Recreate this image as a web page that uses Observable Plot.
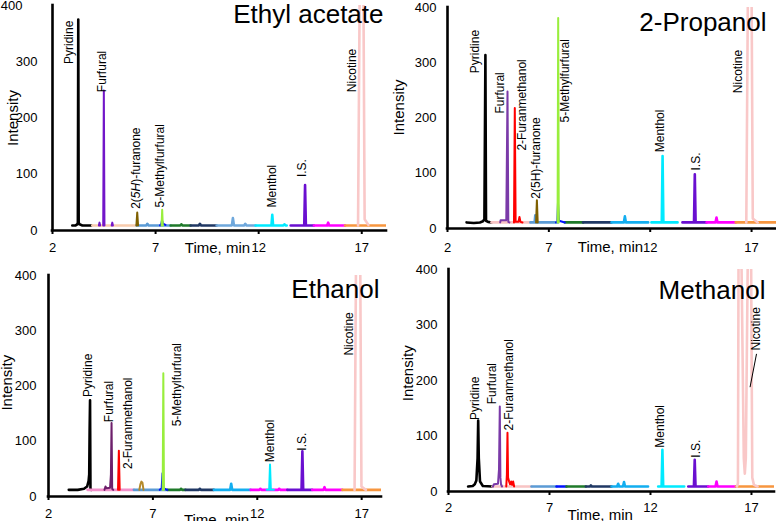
<!DOCTYPE html>
<html><head><meta charset="utf-8">
<script src="https://cdn.jsdelivr.net/npm/d3@7"></script>
<script src="https://cdn.jsdelivr.net/npm/@observablehq/plot@0.6"></script>
<style>
html,body{margin:0;padding:0;background:#fff;}
#wrap{position:relative;width:776px;height:521px;overflow:hidden;background:#fff;}
#wrap svg{position:absolute;}
</style></head><body><div id="wrap"></div>
<script>
// ---------- tick labels ----------
const ticksX = [2, 7, 12, 17];
const ticksY = [0, 100, 200, 300, 400];
const panelTitles = ["Ethyl acetate", "2-Propanol", "Ethanol", "Methanol"];
const xTitle = "Time, min";
const yTitle = "Intensity";

// ---------- colours of the detection windows / ion traces ----------
const palette = {
  black: "#000000", peach: "#f8cbad", blush: "#f8c4c4", rose: "#f290ca",
  violet: "#7216c9", purple: "#7a3aa8", plum: "#6d1f6b", red: "#ff0000",
  brown: "#7f6000", gold: "#b48a2c", steel: "#5b9bd5", lime: "#99ee3d",
  blue: "#0010ff", green: "#1f7a2a", navy: "#203864", azure: "#6fa8dc",
  sky: "#13aef0", cyan: "#00eaff", indigo: "#6a0fd0", magenta: "#ff00ff",
  orange: "#f7963f", nicotine: "#f9c8c8"
};

// ---------- Ethyl acetate ----------
const ethylAcetateBase = [
  ["black", [[2.96,9],[3.12,9],[3.2,11],[3.23,14],[3.25,375],[3.27,14],[3.31,11],[3.45,9],[3.88,9]]],
  ["peach", [[3.93,9],[6.08,9]]],
  ["steel", [[6.08,9],[6.55,9],[6.6,12],[6.65,9],[7.73,9]]],
  ["green", [[7.73,9],[8.2,9],[8.25,11],[8.3,9],[8.70,9]]],
  ["navy", [[8.70,9],[9.1,9],[9.15,12],[9.2,9],[9.96,9]]],
  ["azure", [[9.96,9],[10.7,9],[10.75,22],[10.8,9],[11.3,9],[11.35,12],[11.4,9],[11.85,9]]],
  ["cyan", [[11.85,9],[12.62,9],[12.66,28],[12.70,9],[13.2,9],[13.25,11],[13.3,9],[13.36,9]]],
  ["indigo", [[13.55,9],[14.21,9],[14.25,81],[14.29,9],[14.68,9]]],
  ["magenta", [[14.68,9],[15.32,9],[15.37,14],[15.42,9],[16.19,9]]],
  ["orange", [[16.19,9],[18.2,9]]],
  ["nicotine", [[16.82,9],[16.9,430],[17.08,430],[17.14,20],[17.32,10]]]
];
const ethylAcetatePeaks = [
  ["violet", [[4.25,9],[4.28,14],[4.31,9]]],
  ["violet", [[4.46,9],[4.49,249],[4.52,9]]],
  ["violet", [[4.87,9],[4.9,14],[4.93,9]]],
  ["brown", [[6.07,9],[6.11,32],[6.15,9]]],
  ["blue", [[7.22,9],[7.28,12],[7.31,18],[7.36,12],[7.48,10]]],
  ["lime", [[7.29,9],[7.32,37],[7.35,9]]]
];
const ethylAcetateLabels = [
  ["Pyridine", 2.79, 296], ["Furfural", 4.41, 246], ["2(5H)-furanone", 6.08, 38.5],
  ["5-Methylfurfural", 7.24, 41], ["Menthol", 12.66, 41], ["I.S.", 14.09, 95], ["Nicotine", 16.55, 246]
];

// ---------- 2-Propanol ----------
const propanolBase = [
  ["black", [[2.94,11],[3.3,10],[3.6,11],[3.75,13],[3.82,17],[3.87,314],[3.9,14],[4.0,12],[4.17,11]]],
  ["blush", [[4.17,11],[6.09,11]]],
  ["steel", [[6.09,11],[6.3,11],[6.33,24],[6.36,11],[7.45,11]]],
  ["green", [[7.79,11],[8.69,11]]],
  ["navy", [[8.69,11],[10.09,11]]],
  ["sky", [[10.09,11],[10.7,11],[10.75,22],[10.8,11],[11.9,11]]],
  ["cyan", [[12.06,11],[12.57,11],[12.61,131],[12.65,11],[13.35,11]]],
  ["indigo", [[13.59,11],[14.16,11],[14.2,98],[14.24,11],[14.78,11]]],
  ["magenta", [[14.78,11],[15.22,11],[15.27,20],[15.32,11],[16.22,11]]],
  ["orange", [[16.22,11],[18.23,11]]],
  ["nicotine", [[16.74,11],[16.82,430],[17.0,430],[17.06,18],[17.3,11]]]
];
const propanolPeaks = [
  ["purple", [[4.6,11],[4.62,15],[4.9,15],[4.96,248],[5.0,12],[5.05,11]]],
  ["red", [[5.28,11],[5.32,218],[5.36,12],[5.5,12],[5.55,21],[5.6,12],[5.7,11]]],
  ["brown", [[6.37,11],[6.41,51],[6.45,11]]],
  ["blue", [[7.35,11],[7.42,12],[7.45,46],[7.5,14],[7.79,11]]],
  ["lime", [[7.43,11],[7.46,381],[7.49,11]]]
];
const propanolLabels = [
  ["Pyridine", 3.35, 281], ["Furfural", 4.58, 208], ["2-Furanmethanol", 5.70, 141],
  ["2(5H)-furanone", 6.39, 54], ["5-Methylfurfural", 7.82, 192], ["Menthol", 12.51, 138],
  ["I.S.", 14.25, 105], ["Nicotine", 16.34, 245]
];

// ---------- Ethanol ----------
const ethanolBase = [
  ["black", [[2.97,12],[3.4,12],[3.7,14],[3.85,18],[3.92,28],[3.95,40],[3.97,120],[3.99,174],[4.01,14],[4.05,12]]],
  ["rose", [[3.87,12],[6.09,12]]],
  ["steel", [[6.09,12],[7.69,12]]],
  ["green", [[7.69,12],[8.3,12],[8.35,14],[8.4,12],[8.56,12]]],
  ["navy", [[8.56,12],[9.2,12],[9.25,14],[9.3,12],[9.92,12]]],
  ["sky", [[9.92,12],[10.7,12],[10.75,23],[10.8,12],[11.68,12]]],
  ["magenta", [[11.68,12],[12.1,12],[12.15,14],[12.2,12],[13.0,12],[13.05,14],[13.1,12],[13.44,12]]],
  ["indigo", [[13.44,12],[14.12,12],[14.16,82],[14.2,12],[14.63,12]]],
  ["magenta", [[14.63,12],[15.17,12],[15.22,17],[15.27,12],[16.07,12]]],
  ["orange", [[16.07,12],[17.95,12]]],
  ["nicotine", [[16.66,12],[16.73,430],[16.93,430],[16.99,18],[17.2,12]]]
];
const ethanolPeaks = [
  ["plum", [[4.68,12],[4.73,18],[4.78,15],[4.95,16],[4.99,40],[5.02,133],[5.05,14],[5.1,12]]],
  ["red", [[5.33,12],[5.37,83],[5.41,12]]],
  ["gold", [[6.35,12],[6.4,22],[6.45,27],[6.5,25],[6.55,12]]],
  ["blue", [[7.33,12],[7.42,15],[7.46,42],[7.5,16],[7.6,13],[7.69,12]]],
  ["lime", [[7.47,12],[7.50,223],[7.53,12]]],
  ["cyan", [[12.45,12],[12.57,12],[12.61,58],[12.65,12],[12.8,12]]]
];
const ethanolLabels = [
  ["Pyridine", 3.9, 180], ["Furfural", 4.92, 134.5], ["2-Furanmethanol", 5.82, 50],
  ["5-Methylfurfural", 8.17, 127], ["Menthol", 12.61, 62], ["I.S.", 14.16, 83], ["Nicotine", 16.39, 255]
];

// ---------- Methanol ----------
const methanolBase = [
  ["black", [[2.97,9],[3.2,10],[3.3,13],[3.38,20],[3.44,60],[3.47,128],[3.5,60],[3.56,18],[3.7,10],[4.18,9]]],
  ["blush", [[4.18,9],[6.11,9]]],
  ["steel", [[6.11,9],[7.35,9]]],
  ["blue", [[7.35,9],[7.84,9]]],
  ["green", [[7.84,9],[8.80,9]]],
  ["navy", [[8.80,9],[9.0,9],[9.05,11],[9.1,9],[10.07,9]]],
  ["sky", [[10.07,9],[10.35,9],[10.4,14],[10.45,9],[10.64,9],[10.69,17],[10.74,9],[11.88,9]]],
  ["cyan", [[12.38,9],[12.55,9],[12.59,75],[12.63,9],[13.67,9]]],
  ["indigo", [[13.87,9],[14.15,9],[14.19,57],[14.23,9],[14.86,9]]],
  ["magenta", [[14.86,9],[15.22,9],[15.27,18],[15.32,9],[16.23,9]]],
  ["orange", [[16.23,9],[18.14,9]]],
  ["nicotine", [[16.28,9],[16.33,15],[16.36,430],[16.5,430],[16.62,60],[16.67,32],[16.72,60],[16.82,430],[16.98,430],[17.04,25],[17.12,12],[17.3,9]]]
];
const methanolPeaks = [
  ["purple", [[4.2,9],[4.25,13],[4.45,14],[4.5,40],[4.54,153],[4.57,25],[4.6,13],[4.65,9]]],
  ["red", [[4.86,9],[4.89,30],[4.92,106],[4.95,25],[5.0,18],[5.05,13],[5.1,18],[5.15,12],[5.2,18],[5.25,9]]]
];
const methanolLabels = [
  ["Pyridine", 3.30, 129], ["Furfural", 4.18, 157], ["2-Furanmethanol", 5.0, 110],
  ["Menthol", 12.5, 79], ["I.S.", 14.24, 61], ["Nicotine", 17.25, 254]
];
const methanolLeader = [[17.25, 248, 16.93, 188]];

// ---------- layout (pixels) ----------
const layouts = [
  {left:0, top:0, width:388, height:260, mL:52, mR:2, mT:5, mB:30, xMax:18.2, xPad:8, yPad:15, yPadTop:30,
   xTitleT:10.0, xTitleDy:18, yTitleV:200, yTitleDx:-39, titleDx:-3, titleDy:8.7},
  {left:386, top:0, width:390, height:260, mL:61, mR:0, mT:7, mB:32, xMax:18.23, xPad:10, yPad:11, yPadTop:11,
   xTitleT:10.04, xTitleDy:19, yTitleV:219, yTitleDx:-48, titleDx:-10, titleDy:15.4},
  {left:0, top:260, width:386, height:261, mL:48, mR:5, mT:15, mB:25, xMax:17.95, xPad:8, yPad:12, yPadTop:12,
   xTitleT:10.05, xTitleDy:24, yTitleV:206, yTitleDx:-41, titleDx:-2, titleDy:14.6},
  {left:386, top:260, width:390, height:261, mL:62, mR:2, mT:9, mB:30, xMax:18.14, xPad:7, yPad:11, yPadTop:11,
   xTitleT:9.51, xTitleDy:24, yTitleV:213, yTitleDx:-40, titleDx:-9, titleDy:21.3}
];

const panelData = [
  [ethylAcetateBase, ethylAcetatePeaks, ethylAcetateLabels, []],
  [propanolBase, propanolPeaks, propanolLabels, []],
  [ethanolBase, ethanolPeaks, ethanolLabels, []],
  [methanolBase, methanolPeaks, methanolLabels, methanolLeader]
];

function toRows(traces, prefix) {
  return traces.flatMap(([key, pts], i) =>
    pts.map(([t, v]) => ({id: prefix + i, color: palette[key], t, v})));
}

const wrap = document.getElementById("wrap");
const font = "'Liberation Sans', Arial, Helvetica, sans-serif";

panelData.forEach(([base, peaks, labels, leader], p) => {
  const L = layouts[p];
  const labelRows = labels.map(([s, t, v]) => ({s, t, v}));
  const leaderRows = leader.map(([t1, v1, t2, v2]) => ({t1, v1, t2, v2}));
  const svg = Plot.plot({
    width: L.width, height: L.height,
    marginLeft: L.mL, marginRight: L.mR, marginTop: L.mT, marginBottom: L.mB,
    x: {domain: [2, L.xMax]},
    y: {domain: [0, 400]},
    color: {type: "identity"},
    style: {fontFamily: font, color: "black", background: "transparent", overflow: "visible"},
    marks: [
      Plot.line(toRows(base, "b"), {x: "t", y: "v", z: "id", stroke: "color", strokeWidth: 2.6, clip: true}),
      Plot.line(toRows(peaks, "p"), {x: "t", y: "v", z: "id", stroke: "color", strokeWidth: 2, clip: true}),
      Plot.ruleY([0], {x1: 2, x2: L.xMax, stroke: "black", strokeWidth: 2.6, strokeLinecap: "square"}),
      Plot.ruleX([2], {y1: 0, y2: 400, stroke: "black", strokeWidth: 2.6, strokeLinecap: "square"}),
      Plot.axisX({ticks: ticksX, tickSize: 4, strokeWidth: 2, tickPadding: L.xPad, fontSize: 13, label: null}),
      Plot.axisY({ticks: ticksY.slice(0, 4), tickSize: 0, tickPadding: L.yPad, fontSize: 13, label: null}),
      Plot.axisY({ticks: ticksY.slice(4), tickSize: 0, tickPadding: L.yPadTop, fontSize: 13, label: null}),
      Plot.link(leaderRows, {x1: "t1", y1: "v1", x2: "t2", y2: "v2", stroke: "black", strokeWidth: 1}),
      Plot.text(labelRows, {x: "t", y: "v", text: "s", rotate: -90, textAnchor: "start", lineAnchor: "middle", fontSize: 12, fill: "black"}),
      Plot.text([{s: panelTitles[p]}], {text: "s", frameAnchor: "top-right", textAnchor: "end", lineAnchor: "middle",
        fontSize: 26, dx: L.titleDx, dy: L.titleDy, fill: "black"}),
      Plot.text([{s: xTitle, t: L.xTitleT}], {x: "t", text: "s", frameAnchor: "bottom", lineAnchor: "middle",
        fontSize: 15, dy: L.xTitleDy, fill: "black"}),
      Plot.text([{s: yTitle, t: 2, v: L.yTitleV}], {x: "t", y: "v", text: "s", rotate: -90, textAnchor: "middle",
        lineAnchor: "middle", fontSize: 15, dx: L.yTitleDx, fill: "black"})
    ]
  });
  svg.style.left = L.left + "px";
  svg.style.top = L.top + "px";
  if (p === 0) {
    svg.querySelectorAll("text").forEach(el => {
      if (el.textContent === "2(5H)-furanone") {
        el.textContent = "";
        const ns = "http://www.w3.org/2000/svg";
        const a = document.createElementNS(ns, "tspan"); a.textContent = "2(";
        const b = document.createElementNS(ns, "tspan"); b.textContent = "5H"; b.setAttribute("font-style", "italic");
        const c = document.createElementNS(ns, "tspan"); c.textContent = ")-furanone";
        el.append(a, b, c);
      }
    });
  }
  wrap.appendChild(svg);
});
</script>
</body></html>
